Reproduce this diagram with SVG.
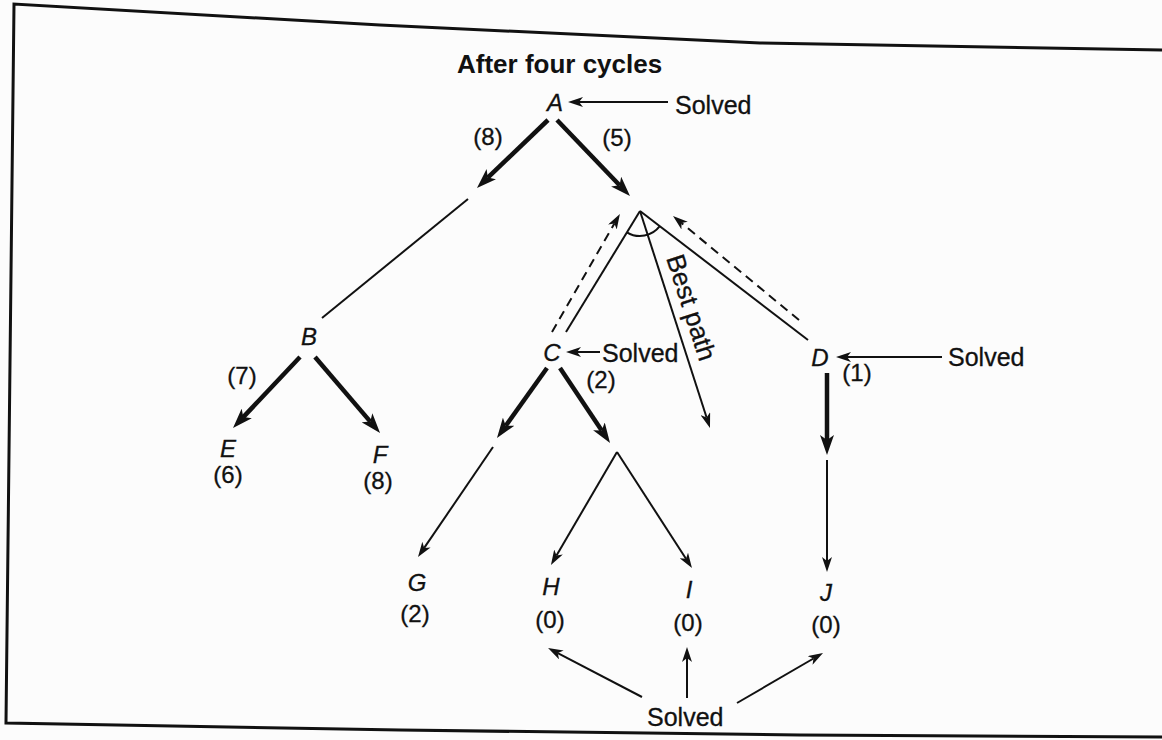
<svg xmlns="http://www.w3.org/2000/svg" width="1162" height="740" viewBox="0 0 1162 740">
<style>
.t{font-family:"Liberation Sans",Arial,sans-serif;font-size:24px;fill:#111;stroke:#111;stroke-width:0.3}
.n{font-style:italic;text-anchor:middle}
.v{text-anchor:middle}
.title{font-weight:bold;font-size:26px;stroke-width:0}
.s{font-size:25px}
.thick{stroke:#111;stroke-width:4.5;fill:none;marker-end:url(#ah)}
.thin{stroke:#111;stroke-width:2;fill:none}
.arr{marker-end:url(#at)}
.dash{stroke-dasharray:9 6}
.frame{stroke:#111;stroke-width:3;fill:none}
</style>
<defs>
<marker id="ah" markerUnits="userSpaceOnUse" markerWidth="20" markerHeight="14" refX="5" refY="7" orient="auto" viewBox="0 0 20 14"><path d="M0,0 L20,7 L0,14 L5,7 z" fill="#111"/></marker>
<marker id="at" markerUnits="userSpaceOnUse" markerWidth="15" markerHeight="10" refX="4" refY="5" orient="auto" viewBox="0 0 15 10"><path d="M0,0 L15,5 L0,10 L4,5 z" fill="#111"/></marker>
</defs>
<rect width="1162" height="740" fill="#fcfcfc"/>
<g id="frame">
<polyline class="frame" points="1162,50 760,43 380,25 14,4 6,723 400,730 800,735 1162,737"/>
</g>
<text class="t title" x="457" y="73">After four cycles</text>
<g id="connectors">
<line class="thick" x1="548" y1="120" x2="487.8" y2="177.6"/>
<line class="thick" x1="557" y1="120" x2="619.6" y2="185.2"/>
<line class="thick" x1="300" y1="357" x2="243.3" y2="417.1"/>
<line class="thick" x1="315" y1="357" x2="370.3" y2="421.6"/>
<line class="thick" x1="547" y1="368" x2="505.7" y2="425.8"/>
<line class="thick" x1="560" y1="368" x2="601.7" y2="430.5"/>
<line class="thick" x1="827" y1="373" x2="827" y2="440"/>
<line class="thin" x1="468" y1="199" x2="322" y2="318"/>
<line class="thin" x1="640" y1="211" x2="566" y2="332"/>
<line class="thin" x1="640" y1="211" x2="808" y2="340"/>
<path class="thin" d="M626.9,232.3 A25,25 0 0 0 659.8,226.2"/>
<line class="thin arr" x1="668" y1="102" x2="579" y2="102"/>
<line class="thin arr" x1="600" y1="352" x2="577" y2="352"/>
<line class="thin arr" x1="942" y1="357" x2="847" y2="357"/>
<line class="thin arr" x1="640" y1="211" x2="706.6" y2="417.5"/>
<line class="thin arr dash" x1="552" y1="332" x2="614.4" y2="223.5"/>
<line class="thin arr dash" x1="799" y1="320" x2="681.5" y2="223"/>
<line class="thin arr" x1="493" y1="447" x2="424.2" y2="547.9"/>
<line class="thin arr" x1="617" y1="452" x2="556.5" y2="555.5"/>
<line class="thin arr" x1="617" y1="452" x2="686" y2="558.8"/>
<line class="thin arr" x1="827" y1="460" x2="827" y2="561"/>
<line class="thin arr" x1="642" y1="697" x2="557.8" y2="653.1"/>
<line class="thin arr" x1="687" y1="698" x2="687" y2="658"/>
<line class="thin arr" x1="737" y1="703" x2="813.5" y2="658.5"/>
</g>
<g id="labels">
<text class="t v" x="488" y="145">(8)</text>
<text class="t v" x="617" y="146">(5)</text>
<text class="t v" x="242" y="384">(7)</text>
<text class="t v" x="601" y="388">(2)</text>
<text class="t v" x="857" y="381">(1)</text>
<text class="t" style="font-size:26px" transform="translate(666,258) rotate(72.1)">Best path</text>
</g>
<g id="node-A"><text class="t n" x="555" y="111">A</text></g>
<g id="solved-A"><text class="t s" x="675" y="114">Solved</text></g>
<g id="node-B"><text class="t n" x="309" y="345">B</text></g>
<g id="node-E"><text class="t n" x="228" y="457">E</text><text class="t v" x="228" y="483">(6)</text></g>
<g id="node-F"><text class="t n" x="380" y="463">F</text><text class="t v" x="378" y="489">(8)</text></g>
<g id="node-C"><text class="t n" x="552" y="361">C</text></g>
<g id="solved-C"><text class="t s" x="602" y="362">Solved</text></g>
<g id="node-D"><text class="t n" x="820" y="366">D</text></g>
<g id="solved-D"><text class="t s" x="948" y="366">Solved</text></g>
<g id="node-G"><text class="t n" x="417" y="591">G</text><text class="t v" x="415" y="622">(2)</text></g>
<g id="node-H"><text class="t n" x="551" y="595">H</text><text class="t v" x="550" y="628">(0)</text></g>
<g id="node-I"><text class="t n" x="689" y="598">I</text><text class="t v" x="688" y="631">(0)</text></g>
<g id="node-J"><text class="t n" x="826" y="601">J</text><text class="t v" x="826" y="633">(0)</text></g>
<g id="solved-bottom"><text class="t s" x="647" y="726">Solved</text></g>
</svg>
